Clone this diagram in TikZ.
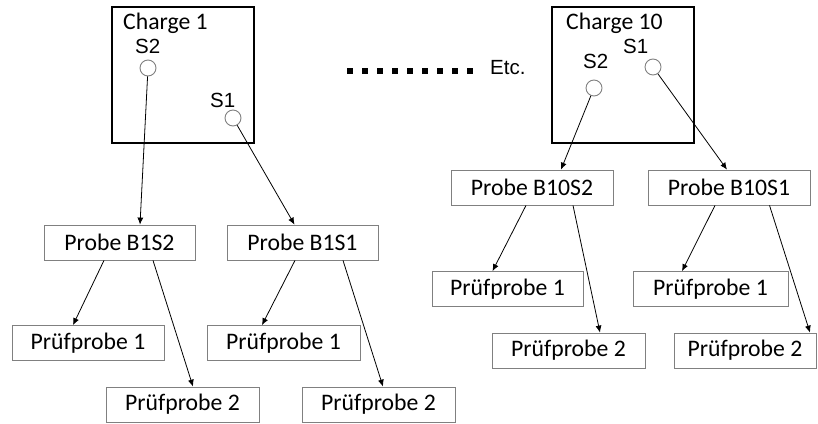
\documentclass[tikz,border=0pt]{standalone}
\usepackage{fontspec}
\setmainfont{Carlito}
\newfontfamily\arialfont{Liberation Sans}
\usetikzlibrary{arrows.meta}
\definecolor{boxgray}{RGB}{128,128,128}

\begin{document}
\begin{tikzpicture}[x=1pt,y=-1pt]
      \useasboundingbox (0,0) rectangle (818,423);

      % the two charges
      \begin{scope}[every node/.style={draw,line width=1.2pt,minimum width=142pt,minimum height=136pt,inner sep=0pt}]
        \node (c1)  at (183,75) {};
        \node (c10) at (623,75) {};
      \end{scope}

      \begin{scope}[every node/.style={inner sep=0pt,font=\fontsize{23.7}{26}\selectfont}]
        \node[anchor=base west] (t1)  at (123,29) {Charge 1};
        \node[anchor=base west] (t10) at (566,29) {Charge 10};
      \end{scope}

      \begin{scope}[every node/.style={inner sep=0pt,font=\arialfont\fontsize{20.5}{23}\selectfont}]
        \node[anchor=base west] (l2a) at (135,53)  {S2};
        \node[anchor=base west] (l1a) at (210,107) {S1};
        \node[anchor=base west] (l2b) at (583,68)  {S2};
        \node[anchor=base west] (l1b) at (623,53)  {S1};
        \node[anchor=base west] (etc) at (490,74)  {Etc.};
      \end{scope}

      \begin{scope}[every node/.style={circle,draw=boxgray,line width=0.9pt,minimum size=16pt,inner sep=0pt}]
        \node (s2a) at (148,68)  {};
        \node (s1a) at (233,118) {};
        \node (s2b) at (594,88)  {};
        \node (s1b) at (653,67)  {};
      \end{scope}

      \draw[line width=6pt,dash pattern=on 6pt off 9pt] (347,71) -- (473,71);

      \begin{scope}[every node/.style={draw=boxgray,line width=0.8pt,minimum height=35pt,inner sep=0pt,font=\fontsize{23.7}{26}\selectfont}]
        \node[minimum width=151pt] (b1s2)  at (119.5,242.5) {Probe B1S2};
        \node[minimum width=151pt] (b1s1)  at (302.5,242.5) {Probe B1S1};
        \node[minimum width=152pt] (p11)   at (88,343)      {Prüfprobe 1};
        \node[minimum width=153pt] (p12)   at (182.5,404.5) {Prüfprobe 2};
        \node[minimum width=153pt] (p21)   at (283.5,343)   {Prüfprobe 1};
        \node[minimum width=153pt] (p22)   at (378.5,404.5) {Prüfprobe 2};
        \node[minimum width=162pt] (b10s2) at (532,187.5)   {Probe B10S2};
        \node[minimum width=162pt] (b10s1) at (729,187.5)   {Probe B10S1};
        \node[minimum width=151pt] (p31)   at (507.5,289)   {Prüfprobe 1};
        \node[minimum width=153pt] (p32)   at (568.5,350.5) {Prüfprobe 2};
        \node[minimum width=155pt] (p41)   at (710.5,289)   {Prüfprobe 1};
        \node[minimum width=142pt] (p42)   at (745,350.5)   {Prüfprobe 2};
      \end{scope}

      \begin{scope}[every edge/.style={draw,line width=0.8pt,-{Latex[length=7pt,width=6pt]}}]
        \path (s2a) edge ([xshift=20.5pt]b1s2.north);
        \path (s1a) edge ([xshift=-8pt]b1s1.north);
        \path (s2b) edge ([xshift=29pt]b10s2.north);
        \path (s1b) edge ([xshift=-2pt]b10s1.north);
        \path ([xshift=-15.5pt]b1s2.south) edge ([xshift=-15pt]p11.north);
        \path ([xshift=33.5pt]b1s2.south)  edge ([xshift=10.5pt]p12.north);
        \path ([xshift=-7.5pt]b1s1.south)  edge ([xshift=-21.5pt]p21.north);
        \path ([xshift=40.5pt]b1s1.south)  edge ([xshift=4.5pt]p22.north);
        \path ([xshift=-6pt]b10s2.south)   edge ([xshift=-15pt]p31.north);
        \path ([xshift=41pt]b10s2.south)   edge ([xshift=31.5pt]p32.north);
        \path ([xshift=-14pt]b10s1.south)  edge ([xshift=-28.5pt]p41.north);
        \path ([xshift=40.5pt]b10s1.south) edge ([xshift=65pt]p42.north);
      \end{scope}

\end{tikzpicture}
\end{document}
